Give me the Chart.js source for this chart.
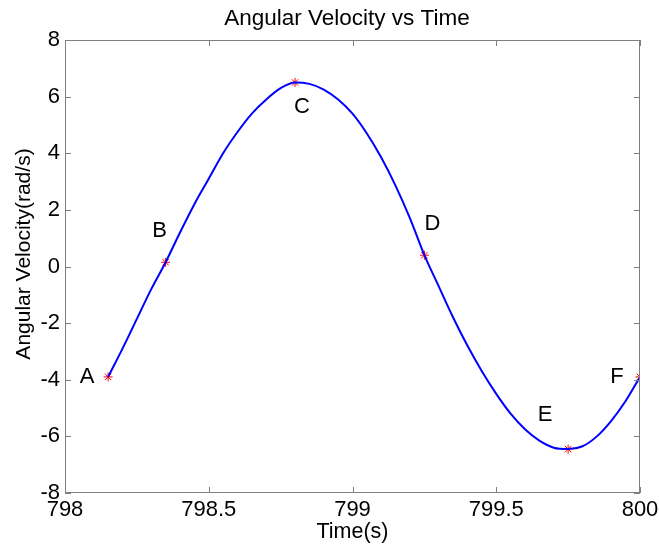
<!DOCTYPE html>
<html>
<head>
<meta charset="utf-8">
<script src="https://cdn.jsdelivr.net/npm/chart.js@4.4.0/dist/chart.umd.min.js"></script>
<style>
  html, body { margin: 0; padding: 0; background: #fff; }
  #wrap { width: 659px; height: 550px; }
</style>
</head>
<body>
<div id="wrap"><canvas id="velChart" width="659" height="550"></canvas></div>
<script>
// values
const timeValues = [798.15, 798.20, 798.25, 798.30, 798.35, 798.40, 798.45, 798.50, 798.55, 798.60,
    798.65, 798.70, 798.75, 798.80, 798.85, 798.90, 798.95, 799.00, 799.05, 799.10,
    799.15, 799.20, 799.25, 799.30, 799.35, 799.40, 799.45, 799.50, 799.55, 799.60,
    799.65, 799.70, 799.75, 799.80, 799.85, 799.90, 799.95, 800.00];
const velocityValues = [-3.9, -2.9, -1.85, -0.8, 0.15, 1.2, 2.2, 3.1, 4.0, 4.75,
    5.4, 5.9, 6.3, 6.5, 6.45, 6.25, 5.9, 5.4, 4.7, 3.85,
    2.85, 1.7, 0.4, -0.7, -1.8, -2.8, -3.7, -4.5, -5.2, -5.75,
    -6.15, -6.4, -6.45, -6.35, -6.0, -5.45, -4.75, -3.9];

const markerNames = ['A', 'B', 'C', 'D', 'E', 'F'];
const markerTimes = [798.15, 798.35, 798.80, 799.25, 799.75, 800.00];
const markerValues = [-3.9, 0.15, 6.5, 0.4, -6.45, -3.9];

const xTicks = [798, 798.5, 799, 799.5, 800];
const yTicks = [-8, -6, -4, -2, 0, 2, 4, 6, 8];

// label offsets in pixels from each marker
const labelOffsets = [[-21, 0], [-6, -31], [7, 24], [8, -31], [-23, -34], [-23, 0]];

const FONT = '"Liberation Sans", Arial, sans-serif';

// MATLAB-like box with inward ticks, title, y label and point names
const boxPlugin = {
    id: 'boxPlugin',
    afterDraw(chart) {
        const { ctx, chartArea: a, scales } = chart;
        ctx.save();
        ctx.strokeStyle = '#7f7f7f';
        ctx.lineWidth = 1;
        ctx.strokeRect(a.left + 0.5, a.top + 0.5, a.right - a.left - 1, a.bottom - a.top - 1);
        const len = 6;
        ctx.beginPath();
        xTicks.forEach(v => {
            const x = Math.round(scales.x.getPixelForValue(v)) + 0.5;
            ctx.moveTo(x, a.bottom); ctx.lineTo(x, a.bottom - len);
            ctx.moveTo(x, a.top); ctx.lineTo(x, a.top + len);
        });
        yTicks.forEach(v => {
            const y = Math.round(scales.y.getPixelForValue(v)) + 0.5;
            ctx.moveTo(a.left, y); ctx.lineTo(a.left + len, y);
            ctx.moveTo(a.right, y); ctx.lineTo(a.right - len, y);
        });
        ctx.stroke();

        ctx.fillStyle = '#000';
        ctx.textAlign = 'center';

        ctx.font = '22.5px ' + FONT;
        ctx.textBaseline = 'alphabetic';
        ctx.fillText('Angular Velocity vs Time', 347, 25);

        ctx.save();
        ctx.font = '21px ' + FONT;
        ctx.textBaseline = 'middle';
        ctx.translate(24, 254);
        ctx.rotate(-Math.PI / 2);
        ctx.fillText('Angular Velocity(rad/s)', 0, 0);
        ctx.restore();

        ctx.font = '22px ' + FONT;
        ctx.textBaseline = 'middle';
        markerNames.forEach((name, i) => {
            const x = scales.x.getPixelForValue(markerTimes[i]) + labelOffsets[i][0];
            const y = scales.y.getPixelForValue(markerValues[i]) + labelOffsets[i][1];
            ctx.fillText(name, x, y);
        });
        ctx.restore();
    }
};

const lineData = timeValues.map((t, i) => ({ x: t, y: velocityValues[i] }));
const markerData = markerTimes.map((t, i) => ({ x: t, y: markerValues[i] }));

new Chart(document.getElementById('velChart'), {
    type: 'scatter',
    data: {
        datasets: [
            {
                data: lineData,
                showLine: true,
                borderColor: '#0000ff',
                borderWidth: 2,
                pointRadius: 0,
                cubicInterpolationMode: 'monotone'
            },
            {
                data: markerData,
                showLine: false,
                pointStyle: 'star',
                pointRadius: 4.5,
                borderColor: '#ff0000',
                borderWidth: 1,
                backgroundColor: '#ff0000'
            }
        ]
    },
    options: {
        responsive: false,
        animation: false,
        layout: { padding: { left: 0, right: 19, top: 40, bottom: 0 } },
        plugins: {
            legend: { display: false },
            tooltip: { enabled: false },
            title: { display: false }
        },
        scales: {
            x: {
                type: 'linear',
                min: 798,
                max: 800,
                afterBuildTicks: s => { s.ticks = xTicks.map(v => ({ value: v })); },
                afterFit: s => { s.height = 57; s.paddingLeft = 0; s.paddingRight = 0; },
                grid: { display: false, drawTicks: false },
                border: { display: false },
                ticks: {
                    color: '#000',
                    font: { family: FONT, size: 22 },
                    padding: 4,
                    maxRotation: 0,
                    callback: v => String(v)
                },
                title: {
                    display: true,
                    text: 'Time(s)',
                    color: '#000',
                    font: { family: FONT, size: 21.5 },
                    padding: { top: 0, bottom: 5 }
                }
            },
            y: {
                type: 'linear',
                min: -8,
                max: 8,
                afterBuildTicks: s => { s.ticks = yTicks.map(v => ({ value: v })); },
                afterFit: s => { s.width = 65; s.paddingTop = 0; s.paddingBottom = 0; },
                grid: { display: false, drawTicks: false },
                border: { display: false },
                ticks: {
                    color: '#000',
                    font: { family: FONT, size: 22 },
                    padding: 5,
                    callback: v => String(v)
                }
            }
        }
    },
    plugins: [boxPlugin]
});
</script>
</body>
</html>
